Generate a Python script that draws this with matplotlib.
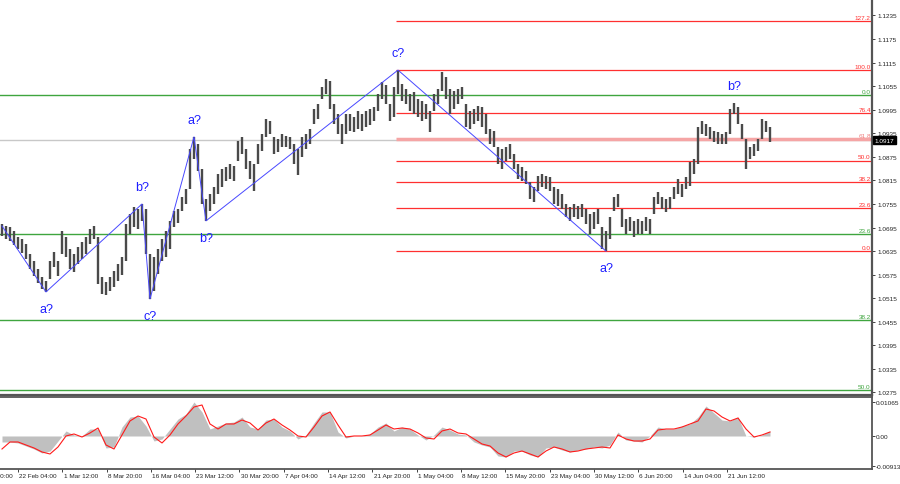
import numpy as np
import matplotlib
matplotlib.use("Agg")
import matplotlib.pyplot as plt
import matplotlib.transforms as mtransforms

plt.rcParams['font.family'] = ['Liberation Sans', 'DejaVu Sans']

# bar highs / lows (EURUSD H4, one bar = ~3 source bars)
highs = [1.0704, 1.0699, 1.0696, 1.0686, 1.0671, 1.0666, 1.0653, 1.0628, 1.0610, 1.0589, 1.0569, 1.0559,
         1.0610, 1.0633, 1.0610, 1.0686, 1.0671, 1.0640, 1.0628, 1.0646, 1.0658, 1.0671, 1.0691, 1.0699,
         1.0671, 1.0569, 1.0556, 1.0569, 1.0584, 1.0602, 1.0620, 1.0704, 1.0730, 1.0747, 1.0742, 1.0755,
         1.0742, 1.0628, 1.0620, 1.0640, 1.0666, 1.0686, 1.0712, 1.0737, 1.0742, 1.0773, 1.0793, 1.0895,
         1.0926, 1.0908, 1.0844, 1.0768, 1.0781, 1.0798, 1.0832, 1.0844, 1.0849, 1.0857, 1.0852, 1.0915,
         1.0926, 1.0895, 1.0865, 1.0857, 1.0908, 1.0933, 1.0971, 1.0966, 1.0926, 1.0920, 1.0933, 1.0928,
         1.0926, 1.0908, 1.0895, 1.0926, 1.0933, 1.0946, 1.0997, 1.1010, 1.1053, 1.1073, 1.1068, 1.1010,
         1.0984, 1.0959, 1.0984, 1.0984, 1.0977, 1.0992, 1.0984, 1.0992, 1.0997, 1.1002, 1.1035, 1.1066,
         1.1058, 1.1010, 1.1053, 1.1096, 1.1061, 1.1048, 1.1035, 1.1040, 1.1022, 1.1017, 1.1010, 1.0992,
         1.1035, 1.1048, 1.1091, 1.1078, 1.1048, 1.1043, 1.1048, 1.1053, 1.1010, 1.0992, 1.0997, 1.1005,
         1.1002, 1.0984, 1.0946, 1.0941, 1.0900, 1.0895, 1.0900, 1.0908, 1.0882, 1.0857, 1.0849, 1.0839,
         1.0811, 1.0798, 1.0826, 1.0832, 1.0826, 1.0824, 1.0798, 1.0793, 1.0781, 1.0755, 1.0747, 1.0755,
         1.0750, 1.0755, 1.0742, 1.0730, 1.0735, 1.0742, 1.0696, 1.0686, 1.0722, 1.0773, 1.0781, 1.0742,
         1.0717, 1.0722, 1.0712, 1.0717, 1.0712, 1.0722, 1.0717, 1.0773, 1.0786, 1.0773, 1.0768, 1.0773,
         1.0798, 1.0819, 1.0806, 1.0824, 1.0862, 1.0870, 1.0951, 1.0966, 1.0959, 1.0951, 1.0941, 1.0938,
         1.0933, 1.0938, 1.0997, 1.1012, 1.1002, 1.0959, 1.0920, 1.0900, 1.0908, 1.0920, 1.0971, 1.0966,
         1.0951]
lows = [1.0673, 1.0666, 1.0661, 1.0651, 1.0640, 1.0630, 1.0615, 1.0589, 1.0572, 1.0554, 1.0539, 1.0531,
        1.0564, 1.0595, 1.0572, 1.0628, 1.0620, 1.0589, 1.0582, 1.0602, 1.0615, 1.0628, 1.0653, 1.0666,
        1.0551, 1.0526, 1.0523, 1.0534, 1.0544, 1.0559, 1.0574, 1.0610, 1.0679, 1.0696, 1.0691, 1.0712,
        1.0628, 1.0513, 1.0534, 1.0577, 1.0610, 1.0620, 1.0640, 1.0696, 1.0707, 1.0737, 1.0755, 1.0793,
        1.0870, 1.0839, 1.0755, 1.0712, 1.0737, 1.0755, 1.0781, 1.0798, 1.0814, 1.0819, 1.0814, 1.0865,
        1.0882, 1.0844, 1.0819, 1.0788, 1.0857, 1.0890, 1.0926, 1.0933, 1.0882, 1.0887, 1.0900, 1.0900,
        1.0895, 1.0857, 1.0829, 1.0875, 1.0895, 1.0908, 1.0959, 1.0971, 1.1022, 1.1035, 1.0997, 1.0959,
        1.0933, 1.0908, 1.0933, 1.0941, 1.0938, 1.0946, 1.0941, 1.0951, 1.0956, 1.0966, 1.0992, 1.1022,
        1.1010, 1.0966, 1.0977, 1.1035, 1.1017, 1.1010, 1.0992, 1.0984, 1.0977, 1.0966, 1.0971, 1.0938,
        1.0992, 1.1010, 1.1043, 1.1022, 1.0984, 1.0997, 1.1010, 1.1022, 1.0951, 1.0946, 1.0959, 1.0966,
        1.0951, 1.0933, 1.0908, 1.0900, 1.0857, 1.0844, 1.0865, 1.0870, 1.0844, 1.0819, 1.0814, 1.0806,
        1.0768, 1.0760, 1.0788, 1.0798, 1.0793, 1.0788, 1.0755, 1.0750, 1.0742, 1.0722, 1.0712, 1.0722,
        1.0717, 1.0722, 1.0704, 1.0679, 1.0691, 1.0704, 1.0640, 1.0635, 1.0666, 1.0737, 1.0747, 1.0696,
        1.0679, 1.0686, 1.0671, 1.0679, 1.0679, 1.0686, 1.0679, 1.0730, 1.0755, 1.0742, 1.0735, 1.0742,
        1.0768, 1.0781, 1.0773, 1.0793, 1.0801, 1.0832, 1.0857, 1.0933, 1.0928, 1.0920, 1.0913, 1.0908,
        1.0908, 1.0908, 1.0933, 1.0984, 1.0959, 1.0920, 1.0844, 1.0870, 1.0877, 1.0890, 1.0920, 1.0938,
        1.0913]
last_price = 1.0917

# oscillator (every second bar)
hist = [-0.00185, -0.00185, -0.00216, -0.00309, -0.00402, -0.00525, -0.00464, -0.00155, 0.00155, 0.00031,
        0.0, 0.00216, 0.00216, -0.00371, -0.00340, 0.00278, 0.00587, 0.00618, 0.00309, -0.00155,
        -0.00093, 0.00216, 0.00525, 0.00680, 0.01051, 0.00742, 0.00216, 0.00309, 0.00402, 0.00433,
        0.00587, 0.00278, 0.00216, 0.00494, 0.00525, 0.00278, 0.00155, -0.00093, 0.00031, 0.00402,
        0.00742, 0.00742, 0.00124, -0.00062, 0.0, 0.0, 0.00062, 0.00278, 0.00402, 0.00155,
        0.00278, 0.00216, 0.00031, -0.00124, 0.00031, 0.00278, 0.00185, 0.00062, 0.00031, -0.00185,
        -0.00278, -0.00340, -0.00618, -0.00649, -0.00464, -0.00464, -0.00587, -0.00649, -0.00371, -0.00340,
        -0.00433, -0.00494, -0.00433, -0.00402, -0.00340, -0.00371, -0.00278, 0.00124, -0.00124, -0.00155,
        -0.00185, 0.0, 0.00278, 0.00216, 0.00216, 0.00309, 0.00371, 0.00587, 0.00927, 0.00711,
        0.00494, 0.00464, 0.00587, 0.0, -0.00031, 0.00031, 0.00155]
signal = [-0.00402, -0.00185, -0.00185, -0.00278, -0.00371, -0.00494, -0.00556, -0.00340, 0.0, 0.00062,
          -0.00031, 0.00093, 0.00247, -0.00278, -0.00402, 0.00031, 0.00464, 0.00618, 0.00525, -0.00031,
          -0.00216, 0.00031, 0.00371, 0.00618, 0.00896, 0.00958, 0.00371, 0.00216, 0.00371, 0.00371,
          0.00494, 0.00402, 0.00185, 0.00402, 0.00525, 0.00340, 0.00185, 0.0, -0.00031, 0.00278,
          0.00618, 0.00742, 0.00340, -0.00031, 0.0, 0.0, 0.00031, 0.00185, 0.00340, 0.00216,
          0.00247, 0.00216, 0.00093, -0.00062, -0.00093, 0.00155, 0.00216, 0.00093, 0.00062, -0.00093,
          -0.00247, -0.00309, -0.00525, -0.00649, -0.00525, -0.00464, -0.00556, -0.00649, -0.00464, -0.00340,
          -0.00402, -0.00494, -0.00464, -0.00402, -0.00371, -0.00340, -0.00371, 0.00031, -0.00093, -0.00155,
          -0.00155, -0.00093, 0.00185, 0.00216, 0.00216, 0.00278, 0.00371, 0.00464, 0.00834, 0.00773,
          0.00587, 0.00464, 0.00556, 0.00216, -0.00031, 0.00031, 0.00124]

# wave marking
wave_bar = [0, 11, 35, 37, 48, 51, 99, 151]
wave_price = [1.0699, 1.0531, 1.0755, 1.0513, 1.0926, 1.0712, 1.1096, 1.0635]
label_text = ["a?", "b?", "c?", "a?", "b?", "c?", "a?", "b?"]
label_bar = [11, 35, 37, 48, 51, 99, 151, 183]
label_up = [False, True, False, True, False, True, False, True]

# fibo
red_levels = [0.0, 23.6, 38.2, 50.0, 61.8, 76.4, 100.0, 127.2]
red_fib_start = 99
green_fib_0 = 1.1033
green_fib_100 = 0.9529
green_levels = [0.0, 23.6, 38.2, 50.0]

dates = ["15 Feb 20:00", "22 Feb 04:00", "1 Mar 12:00", "8 Mar 20:00", "16 Mar 04:00",
         "23 Mar 12:00", "30 Mar 20:00", "7 Apr 04:00", "14 Apr 12:00", "21 Apr 20:00",
         "1 May 04:00", "8 May 12:00", "15 May 20:00", "23 May 04:00", "30 May 12:00",
         "6 Jun 20:00", "14 Jun 04:00", "21 Jun 12:00"]

fs = 4.6
fig = plt.figure(figsize=(9, 4.85), dpi=100)
ax = fig.add_axes([0, 1 - 396 / 485, 872 / 900, 396 / 485])
ax2 = fig.add_axes([0, 1 - 470 / 485, 872 / 900, 72 / 485])

idx = np.arange(len(highs))
ax.vlines(idx, lows, highs, color='#4a4a4a', lw=1.7)

# horizontal lines
ax.axhline(last_price, color='#c8c8c8', lw=1.0, zorder=1)
btr = mtransforms.blended_transform_factory(ax.transAxes, ax.transData)
for lv in green_levels:
    p = green_fib_0 - (green_fib_0 - green_fib_100) * lv / 100
    ax.axhline(p, color='#3fa53f', lw=1.0, zorder=1)
    ax.text(0.9985, p + 0.0003, f"{lv:.1f}", transform=btr, ha='right', va='bottom',
            fontsize=fs, color='#3fa53f')
hi = wave_price[6]
lo = wave_price[7]
for lv in red_levels:
    p = lo + (hi - lo) * lv / 100
    if lv == 61.8:
        ax.hlines(p, red_fib_start - 0.5, 217.5, color='#f5a5a5', lw=2.5, zorder=1)
        col = '#f08080'
    else:
        ax.hlines(p, red_fib_start - 0.5, 217.5, color='#ff3030', lw=0.9, zorder=1)
        col = '#ff3030'
    ax.text(0.9985, p + 0.0003, f"{lv:.1f}", transform=btr, ha='right', va='bottom',
            fontsize=fs, color=col)

ax.plot(wave_bar, wave_price, color='#4848ff', lw=0.7, zorder=3)
for t, b, up in zip(label_text, label_bar, label_up):
    y = highs[b] if up else lows[b]
    ax.annotate(t, (b, y), xytext=(0, 12 if up else -12), textcoords='offset points',
                ha='center', va='center', fontsize=9, color='#1e1eff')

ax.set_xlim(-0.5, 217.5)
ax.set_ylim(1.1277 - 396 / 3927, 1.1277)
ax.yaxis.tick_right()
ax.set_yticks(np.arange(1.0275, 1.1240, 0.006))
ax.set_yticklabels([f"{v:.4f}" for v in np.arange(1.0275, 1.1240, 0.006)])
ax.tick_params(axis='y', labelsize=fs, length=2.5, width=0.6, pad=1.5, colors='#222222')
ax.set_xticks([])
for s in ['left', 'top']:
    ax.spines[s].set_visible(False)
ax.spines['right'].set_color('#555555')
ax.spines['right'].set_linewidth(1.6)
ax.spines['bottom'].set_color('#555555')
ax.spines['bottom'].set_linewidth(1.6)
ax.text(1.003, last_price, f"{last_price:.4f}", transform=btr, ha='left', va='center',
        fontsize=fs, color='white',
        bbox=dict(boxstyle='square,pad=0.25', fc='black', ec='black'))

# oscillator
ind_idx = np.arange(len(hist)) * 2
ax2.fill_between(ind_idx, 0, hist, color='#c0c0c0', lw=0)
ax2.plot(ind_idx, signal, color='#ff1a1a', lw=0.8)
ax2.set_xlim(-0.5, 217.5)
ax2.set_ylim(-0.0102, 0.01205)
ax2.yaxis.tick_right()
ax2.set_yticks([0.01065, 0.0, -0.00913])
ax2.set_yticklabels(["0.01065", "0.00", "-0.00913"])
ax2.tick_params(axis='y', labelsize=fs, length=2, width=0.6, pad=1, colors='#222222')
ax2.spines['left'].set_visible(False)
for s in ['top', 'right', 'bottom']:
    ax2.spines[s].set_color('#555555')
    ax2.spines[s].set_linewidth(1.3)

pos = [(-26.3 + 44.3 * k) / 4 - 0.5 for k in range(len(dates))]
inside = [p for p in pos if -0.5 < p < 217.5]
ax2.set_xticks(inside)
ax2.set_xticklabels([])
ax2.tick_params(axis='x', length=2.5, width=0.6, colors='#222222')
xtr = mtransforms.blended_transform_factory(ax2.transData, ax2.transAxes)
for p, d in zip(pos, dates):
    ax2.text(p + 0.3, -0.06, d, transform=xtr, ha='left', va='top', fontsize=fs, color='#222222')

fig.savefig("out.png", dpi=100)
